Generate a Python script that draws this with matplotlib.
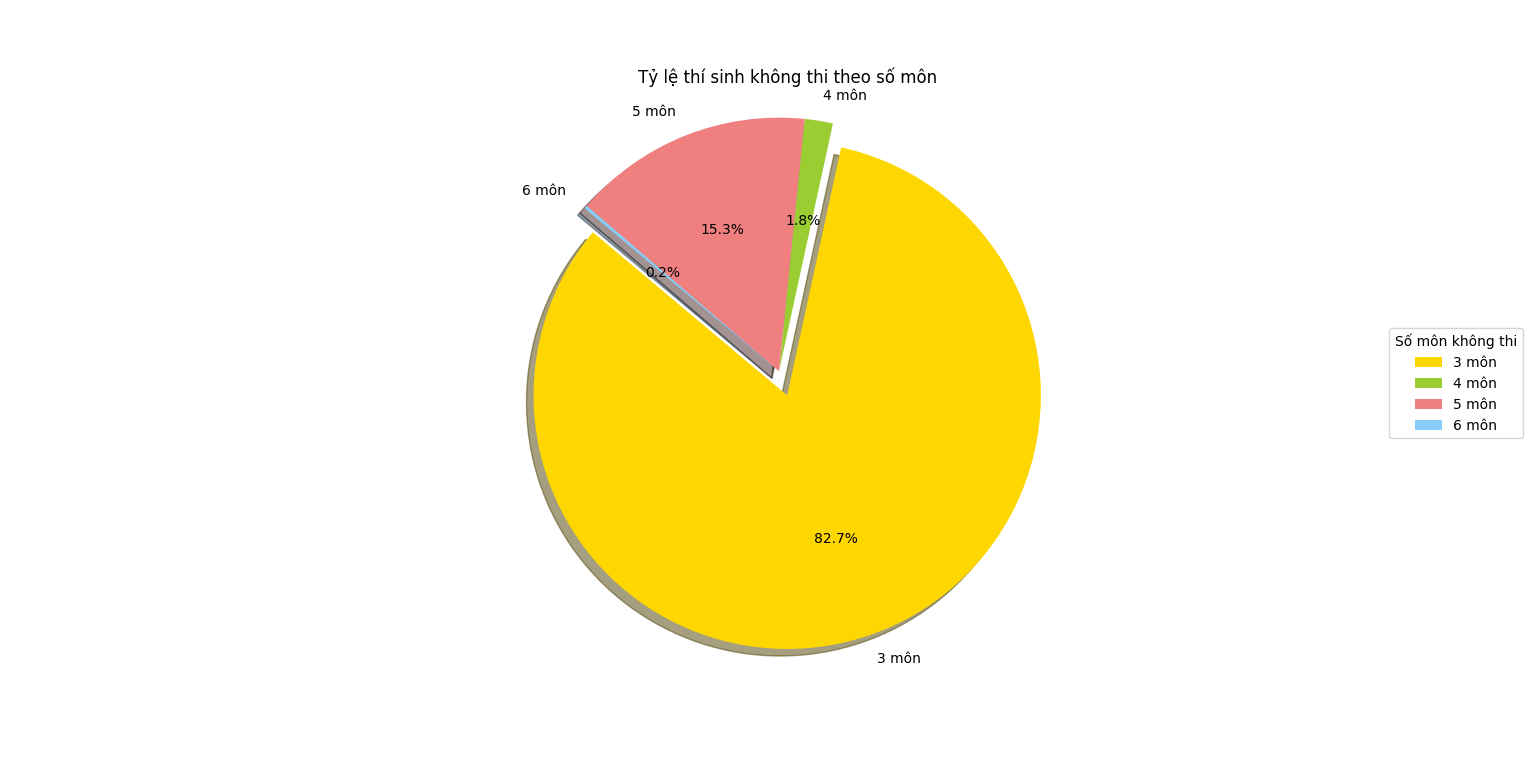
import matplotlib.pyplot as plt

# So mon khong thi
labels = ['3 môn', '4 môn', '5 môn', '6 môn']
sizes = [82.7, 1.8, 15.3, 0.2]
colors = ['gold', 'yellowgreen', 'lightcoral', 'lightskyblue']
explode = (0.1, 0, 0, 0)

plt.figure(figsize=(15.36, 7.59), dpi=100)
plt.pie(sizes, explode=explode, labels=labels, colors=colors,
        autopct='%1.1f%%', shadow=True, startangle=140)
plt.axis('equal')
plt.title('Tỷ lệ thí sinh không thi theo số môn')
plt.legend(title='Số môn không thi', loc='center left', bbox_to_anchor=(1, 0, 0.5, 1))
plt.savefig('out.png')
